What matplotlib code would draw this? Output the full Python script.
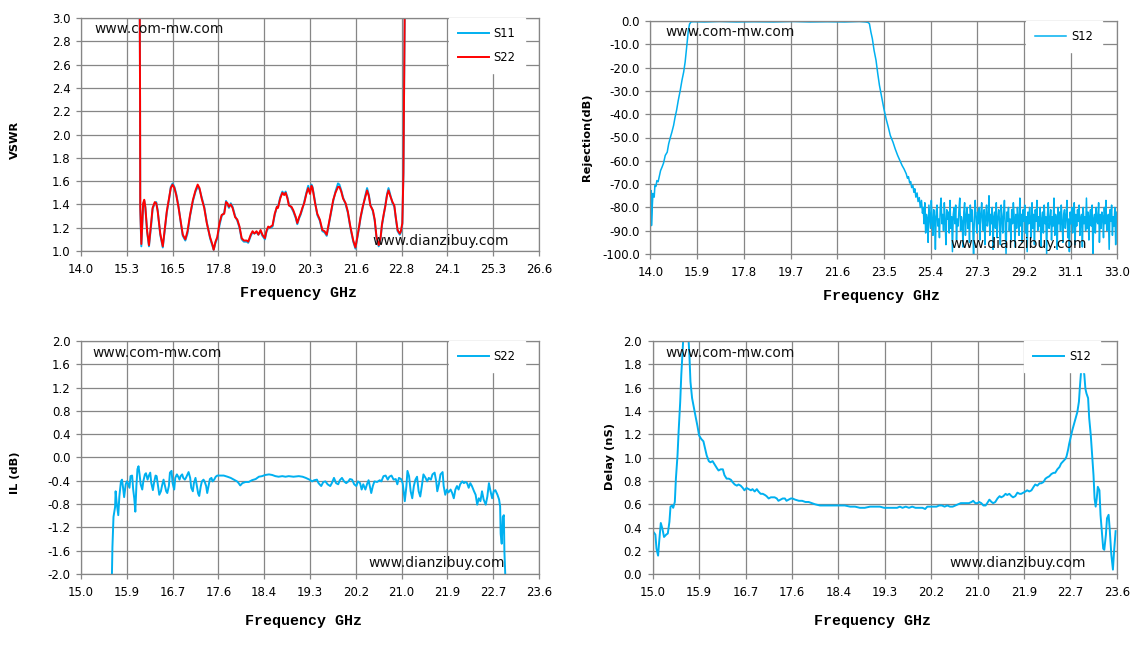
import numpy as np
import matplotlib
matplotlib.use("Agg")
import matplotlib.pyplot as plt

# ---------------- data ----------------
# VSWR panel
vswr_freq = [15.61, 15.625, 15.63, 15.66, 15.71, 15.74, 15.77, 15.82, 15.87, 15.93,
             15.97, 16.03, 16.07, 16.11, 16.18, 16.25, 16.30, 16.36, 16.43, 16.47,
             16.52, 16.57, 16.62, 16.68, 16.75, 16.80, 16.87, 16.93, 17.00, 17.08,
             17.15, 17.21, 17.26, 17.32, 17.39, 17.46, 17.55, 17.62, 17.65, 17.70,
             17.75, 17.81, 17.87, 17.94, 17.99, 18.03, 18.07, 18.12, 18.17, 18.24,
             18.30, 18.36, 18.42, 18.48, 18.56, 18.60, 18.67, 18.72, 18.77, 18.83,
             18.88, 18.94, 18.99, 19.06, 19.10, 19.15, 19.19, 19.22, 19.27, 19.33,
             19.39, 19.42, 19.48, 19.54, 19.59, 19.63, 19.68, 19.72, 19.79, 19.84,
             19.91, 19.95, 20.00, 20.04, 20.09, 20.14, 20.20, 20.25, 20.30, 20.34,
             20.37, 20.44, 20.50, 20.57, 20.64, 20.70, 20.76, 20.79, 20.87, 20.94,
             21.00, 21.07, 21.11, 21.16, 21.21, 21.28, 21.34, 21.41, 21.49, 21.55,
             21.60, 21.64, 21.69, 21.75, 21.81, 21.87, 21.92, 21.96, 22.03, 22.08,
             22.13, 22.19, 22.24, 22.28, 22.33, 22.37, 22.42, 22.46, 22.51, 22.57,
             22.62, 22.66, 22.71, 22.77, 22.80, 22.84, 22.86, 22.87, 22.89, 22.92]
s22_vswr = [3.60, 2.30, 1.38, 1.06, 1.41, 1.44, 1.38, 1.17, 1.05, 1.24,
            1.37, 1.42, 1.41, 1.34, 1.15, 1.04, 1.18, 1.34, 1.47, 1.54,
            1.57, 1.54, 1.48, 1.38, 1.24, 1.14, 1.10, 1.17, 1.31, 1.44,
            1.52, 1.57, 1.54, 1.45, 1.37, 1.24, 1.12, 1.05, 1.01, 1.08,
            1.12, 1.24, 1.31, 1.32, 1.42, 1.41, 1.38, 1.40, 1.37, 1.29,
            1.27, 1.21, 1.11, 1.09, 1.09, 1.08, 1.14, 1.17, 1.15, 1.17,
            1.14, 1.18, 1.14, 1.11, 1.17, 1.21, 1.20, 1.21, 1.22, 1.32,
            1.38, 1.37, 1.45, 1.50, 1.48, 1.50, 1.45, 1.39, 1.38, 1.35,
            1.29, 1.24, 1.29, 1.32, 1.37, 1.41, 1.49, 1.54, 1.49, 1.56,
            1.54, 1.41, 1.32, 1.27, 1.18, 1.17, 1.14, 1.19, 1.32, 1.44,
            1.50, 1.55, 1.55, 1.51, 1.45, 1.41, 1.34, 1.21, 1.09, 1.03,
            1.12, 1.19, 1.29, 1.38, 1.45, 1.52, 1.47, 1.39, 1.35, 1.27,
            1.12, 1.05, 1.11, 1.23, 1.32, 1.38, 1.48, 1.52, 1.47, 1.42,
            1.39, 1.29, 1.18, 1.15, 1.17, 1.24, 1.55, 1.67, 2.45, 3.60]
s11_vswr = [3.60, 2.30, 1.36, 1.04, 1.39, 1.43, 1.37, 1.16, 1.04, 1.22,
            1.36, 1.41, 1.42, 1.35, 1.14, 1.03, 1.17, 1.33, 1.46, 1.55,
            1.58, 1.55, 1.49, 1.39, 1.23, 1.13, 1.09, 1.15, 1.30, 1.43,
            1.51, 1.55, 1.53, 1.46, 1.38, 1.25, 1.11, 1.04, 1.01, 1.07,
            1.11, 1.22, 1.30, 1.33, 1.43, 1.40, 1.37, 1.41, 1.38, 1.30,
            1.26, 1.20, 1.10, 1.08, 1.08, 1.07, 1.13, 1.16, 1.15, 1.16,
            1.14, 1.17, 1.13, 1.10, 1.16, 1.20, 1.20, 1.20, 1.21, 1.31,
            1.38, 1.38, 1.46, 1.51, 1.49, 1.51, 1.46, 1.40, 1.37, 1.34,
            1.28, 1.23, 1.28, 1.31, 1.36, 1.42, 1.50, 1.56, 1.50, 1.57,
            1.55, 1.42, 1.31, 1.26, 1.17, 1.16, 1.13, 1.18, 1.31, 1.43,
            1.51, 1.58, 1.57, 1.52, 1.46, 1.40, 1.33, 1.20, 1.08, 1.02,
            1.11, 1.18, 1.28, 1.37, 1.46, 1.54, 1.48, 1.40, 1.34, 1.26,
            1.11, 1.04, 1.10, 1.22, 1.31, 1.39, 1.49, 1.54, 1.48, 1.41,
            1.38, 1.28, 1.17, 1.14, 1.16, 1.23, 1.53, 1.66, 2.45, 3.60]

# Rejection panel (S12)
rej_freq = [14.00, 14.03, 14.04, 14.07, 14.10, 14.15, 14.18, 14.22, 14.26, 14.31,
            14.35, 14.41, 14.47, 14.53, 14.60, 14.68, 14.74, 14.81, 14.87, 14.94,
            15.00, 15.06, 15.13, 15.21, 15.28, 15.35, 15.41, 15.46, 15.50, 15.54,
            15.59, 15.65, 15.75, 16.20, 16.80, 17.50, 18.20, 19.00, 19.80, 20.50,
            21.20, 21.90, 22.50, 22.75, 22.85, 22.91, 22.97, 23.03, 23.10, 23.18,
            23.25, 23.32, 23.41, 23.50, 23.59, 23.68, 23.76, 23.87, 23.96, 24.06,
            24.15, 24.24, 24.32, 24.41, 24.46, 24.50, 24.55, 24.59, 24.63, 24.68,
            24.72, 24.76, 24.80, 24.85, 24.89, 24.94, 24.98, 25.03, 25.07]
rej_vals = [-76.0, -72.8, -87.8, -80.0, -74.0, -75.6, -70.6, -71.0, -68.5, -69.0,
            -67.0, -64.2, -62.7, -61.0, -57.7, -56.3, -52.7, -49.9, -47.7, -44.8,
            -41.3, -38.4, -34.1, -29.8, -25.5, -21.9, -17.6, -12.6, -8.3, -4.0,
            -1.3, -0.4, -0.3, -0.4, -0.2, -0.4, -0.3, -0.4, -0.2, -0.4,
            -0.3, -0.4, -0.2, -0.4, -0.6, -1.1, -4.7, -7.6, -12.6, -16.9,
            -22.6, -27.7, -32.7, -37.7, -42.0, -45.6, -49.1, -52.0, -54.9, -57.7,
            -59.9, -62.0, -63.5, -65.6, -67.5, -66.8, -69.5, -68.9, -71.5, -70.6,
            -73.5, -72.0, -75.6, -73.8, -77.5, -75.8, -80.0, -77.0, -82.5]
# stop band floor, 25.1 .. 33.0 GHz, evenly swept
floor_start, floor_stop = 25.10, 33.00
floor_vals = [-80, -87, -78, -91, -83, -85, -95, -79, -84, -89, -77, -86,
              -92, -81, -84, -98, -82, -79, -88, -85, -93, -80, -76, -87,
              -83, -90, -78, -86, -96, -81, -85, -82, -91, -77, -89, -84,
              -99, -83, -80, -87, -79, -94, -85, -88, -81, -76, -90, -84,
              -86, -97, -82, -78, -92, -84, -80, -89, -83, -95, -79, -86,
              -81, -88, -100, -84, -77, -85, -91, -82, -87, -80, -94, -83,
              -78, -86, -90, -81, -96, -84, -79, -88, -85, -75, -92, -83,
              -87, -80, -98, -84, -82, -89, -78, -93, -85, -81, -86, -96,
              -79, -84, -91, -83, -77, -88, -100, -82, -86, -80, -90, -85,
              -94, -81, -87, -78, -84, -97, -83, -89, -80, -85, -92, -76,
              -88, -83, -95, -81, -86, -79, -91, -84, -99, -82, -87, -80,
              -85, -93, -78, -89, -83, -96, -81, -86, -77, -90, -84, -88,
              -80, -97, -85, -82, -91, -79, -87, -84, -100, -83, -78, -89,
              -86, -81, -94, -84, -88, -76, -92, -83, -85, -98, -80, -87,
              -82, -90, -79, -86, -95, -83, -81, -89, -84, -77, -93, -85,
              -99, -82, -87, -80, -91, -84, -78, -96, -83, -88, -81, -86,
              -79, -92, -85, -83, -97, -80, -87, -84, -90, -76, -89, -82,
              -94, -84, -81, -88, -79, -100, -85, -83, -91, -80, -86, -87,
              -78, -95, -83, -89, -82, -84, -93, -80, -87, -77, -90, -85,
              -83, -98, -81, -86, -79, -92, -84, -88, -80, -96, -82, -85]

# Insertion loss panel
il_freq = [15.58, 15.59, 15.61, 15.64, 15.65, 15.67, 15.70, 15.72, 15.75, 15.77,
           15.79, 15.81, 15.84, 15.86, 15.88, 15.91, 15.93, 15.96, 15.98, 16.00,
           16.02, 16.04, 16.06, 16.08, 16.10, 16.12, 16.15, 16.17, 16.20, 16.22,
           16.25, 16.27, 16.30, 16.32, 16.35, 16.37, 16.40, 16.42, 16.45, 16.47,
           16.50, 16.52, 16.55, 16.57, 16.60, 16.62, 16.65, 16.67, 16.70, 16.72,
           16.75, 16.77, 16.80, 16.82, 16.85, 16.87, 16.90, 16.92, 16.95, 16.97,
           17.00, 17.02, 17.05, 17.07, 17.10, 17.12, 17.15, 17.17, 17.20, 17.22,
           17.25, 17.27, 17.30, 17.32, 17.35, 17.37, 17.40, 17.42, 17.45, 17.47,
           17.50, 17.53, 17.56, 17.62, 17.68, 17.75, 17.81, 17.87, 17.93, 17.96,
           17.99, 18.03, 18.09, 18.15, 18.21, 18.28, 18.34, 18.40, 18.46, 18.53,
           18.59, 18.65, 18.71, 18.78, 18.84, 18.90, 18.99, 19.09, 19.16, 19.22,
           19.29, 19.34, 19.38, 19.43, 19.46, 19.51, 19.55, 19.59, 19.63, 19.68,
           19.71, 19.75, 19.79, 19.83, 19.86, 19.90, 19.94, 19.98, 20.02, 20.05,
           20.09, 20.13, 20.17, 20.20, 20.24, 20.27, 20.30, 20.34, 20.37, 20.40,
           20.43, 20.45, 20.48, 20.51, 20.56, 20.61, 20.64, 20.68, 20.72, 20.76,
           20.79, 20.83, 20.87, 20.91, 20.94, 20.97, 21.01, 21.04, 21.08, 21.11,
           21.13, 21.16, 21.19, 21.22, 21.25, 21.28, 21.31, 21.34, 21.37, 21.40,
           21.43, 21.47, 21.50, 21.53, 21.57, 21.60, 21.64, 21.67, 21.69, 21.72,
           21.75, 21.79, 21.81, 21.84, 21.87, 21.90, 21.94, 21.97, 22.00, 22.03,
           22.06, 22.09, 22.12, 22.16, 22.19, 22.22, 22.25, 22.28, 22.31, 22.34,
           22.38, 22.41, 22.44, 22.47, 22.50, 22.53, 22.56, 22.60, 22.63, 22.66,
           22.69, 22.72, 22.75, 22.78, 22.82, 22.85, 22.87, 22.88, 22.90, 22.92,
           22.94, 22.95, 22.97]
il_vals = [-2.05, -1.54, -1.02, -0.85, -0.58, -0.78, -0.99, -0.67, -0.41, -0.38,
           -0.52, -0.68, -0.46, -0.41, -0.44, -0.52, -0.32, -0.31, -0.55, -0.70,
           -0.93, -0.49, -0.20, -0.15, -0.29, -0.46, -0.55, -0.41, -0.29, -0.27,
           -0.38, -0.32, -0.26, -0.44, -0.56, -0.44, -0.31, -0.32, -0.52, -0.64,
           -0.58, -0.49, -0.38, -0.46, -0.58, -0.61, -0.49, -0.26, -0.23, -0.44,
           -0.55, -0.35, -0.29, -0.32, -0.38, -0.32, -0.29, -0.35, -0.38, -0.35,
           -0.29, -0.25, -0.35, -0.52, -0.58, -0.44, -0.35, -0.46, -0.62, -0.66,
           -0.49, -0.41, -0.38, -0.41, -0.49, -0.61, -0.46, -0.37, -0.35, -0.41,
           -0.38, -0.33, -0.31, -0.31, -0.31, -0.33, -0.35, -0.38, -0.41, -0.44,
           -0.48, -0.44, -0.42, -0.42, -0.39, -0.37, -0.33, -0.32, -0.30, -0.29,
           -0.30, -0.32, -0.33, -0.32, -0.33, -0.32, -0.33, -0.32, -0.33, -0.35,
           -0.38, -0.41, -0.39, -0.38, -0.44, -0.49, -0.42, -0.41, -0.46, -0.49,
           -0.44, -0.35, -0.44, -0.46, -0.39, -0.35, -0.41, -0.44, -0.41, -0.37,
           -0.38, -0.46, -0.49, -0.41, -0.44, -0.55, -0.46, -0.55, -0.46, -0.39,
           -0.52, -0.61, -0.49, -0.41, -0.42, -0.39, -0.41, -0.32, -0.31, -0.38,
           -0.33, -0.31, -0.38, -0.37, -0.46, -0.35, -0.37, -0.44, -0.75, -0.49,
           -0.23, -0.32, -0.58, -0.70, -0.49, -0.38, -0.33, -0.58, -0.67, -0.49,
           -0.29, -0.35, -0.41, -0.35, -0.38, -0.29, -0.26, -0.41, -0.58, -0.46,
           -0.29, -0.25, -0.49, -0.64, -0.55, -0.60, -0.55, -0.61, -0.70, -0.55,
           -0.49, -0.55, -0.46, -0.41, -0.44, -0.42, -0.44, -0.52, -0.44, -0.49,
           -0.58, -0.64, -0.81, -0.70, -0.75, -0.58, -0.72, -0.81, -0.67, -0.44,
           -0.58, -0.70, -0.58, -0.56, -0.64, -0.72, -0.84, -1.31, -1.48, -1.02,
           -0.99, -1.60, -2.10]

# Group delay panel
dly_freq = [15.00, 15.02, 15.05, 15.07, 15.10, 15.12, 15.15, 15.18, 15.21, 15.25,
            15.28, 15.31, 15.33, 15.36, 15.38, 15.41, 15.43, 15.46, 15.48, 15.51,
            15.53, 15.55, 15.57, 15.62, 15.66, 15.68, 15.70, 15.73, 15.77, 15.80,
            15.83, 15.86, 15.90, 15.94, 15.97, 16.00, 16.04, 16.07, 16.11, 16.15,
            16.19, 16.22, 16.26, 16.30, 16.33, 16.37, 16.41, 16.45, 16.48, 16.52,
            16.56, 16.59, 16.63, 16.67, 16.70, 16.74, 16.78, 16.82, 16.85, 16.89,
            16.93, 16.96, 17.00, 17.04, 17.08, 17.11, 17.15, 17.19, 17.22, 17.26,
            17.30, 17.33, 17.37, 17.41, 17.45, 17.48, 17.52, 17.56, 17.59, 17.64,
            17.71, 17.77, 17.83, 17.89, 17.95, 18.01, 18.10, 18.19, 18.29, 18.38,
            18.47, 18.56, 18.66, 18.75, 18.84, 18.93, 19.03, 19.12, 19.21, 19.29,
            19.35, 19.41, 19.47, 19.53, 19.58, 19.63, 19.69, 19.75, 19.81, 19.87,
            19.94, 20.00, 20.05, 20.09, 20.15, 20.21, 20.26, 20.31, 20.36, 20.41,
            20.46, 20.51, 20.56, 20.61, 20.66, 20.71, 20.76, 20.81, 20.86, 20.91,
            20.94, 20.98, 21.02, 21.05, 21.09, 21.13, 21.17, 21.20, 21.24, 21.28,
            21.31, 21.35, 21.39, 21.43, 21.46, 21.50, 21.54, 21.57, 21.61, 21.65,
            21.68, 21.72, 21.76, 21.80, 21.83, 21.87, 21.91, 21.94, 21.98, 22.02,
            22.06, 22.09, 22.13, 22.17, 22.20, 22.24, 22.28, 22.31, 22.35, 22.39,
            22.43, 22.46, 22.50, 22.54, 22.57, 22.61, 22.65, 22.67, 22.70, 22.72,
            22.75, 22.78, 22.81, 22.84, 22.87, 22.90, 22.92, 22.94, 22.96, 22.98,
            23.00, 23.02, 23.04, 23.07, 23.09, 23.12, 23.14, 23.17, 23.19, 23.21,
            23.23, 23.25, 23.28, 23.30, 23.33, 23.35, 23.37, 23.40, 23.42, 23.45,
            23.47, 23.50, 23.53, 23.55, 23.58]
dly_vals = [0.34, 0.36, 0.34, 0.22, 0.16, 0.28, 0.44, 0.39, 0.32, 0.34,
            0.35, 0.45, 0.58, 0.59, 0.57, 0.62, 0.82, 1.02, 1.22, 1.48,
            1.71, 1.88, 2.05, 2.15, 2.05, 1.88, 1.65, 1.51, 1.41, 1.34,
            1.27, 1.19, 1.16, 1.14, 1.08, 1.02, 0.97, 0.96, 0.97, 0.94,
            0.91, 0.89, 0.90, 0.90, 0.85, 0.82, 0.82, 0.81, 0.79, 0.77,
            0.76, 0.77, 0.76, 0.74, 0.72, 0.74, 0.73, 0.72, 0.73, 0.71,
            0.73, 0.71, 0.69, 0.69, 0.68, 0.67, 0.65, 0.66, 0.66, 0.66,
            0.65, 0.63, 0.64, 0.65, 0.65, 0.63, 0.64, 0.65, 0.65, 0.64,
            0.63, 0.63, 0.62, 0.62, 0.61, 0.60, 0.59, 0.59, 0.59, 0.59,
            0.59, 0.59, 0.58, 0.58, 0.57, 0.57, 0.58, 0.58, 0.58, 0.57,
            0.57, 0.57, 0.57, 0.57, 0.58, 0.57, 0.58, 0.57, 0.58, 0.57,
            0.57, 0.57, 0.56, 0.58, 0.58, 0.58, 0.58, 0.59, 0.59, 0.58,
            0.59, 0.58, 0.58, 0.59, 0.60, 0.61, 0.61, 0.61, 0.61, 0.62,
            0.63, 0.61, 0.61, 0.62, 0.61, 0.59, 0.59, 0.61, 0.64, 0.62,
            0.61, 0.62, 0.65, 0.67, 0.66, 0.67, 0.69, 0.68, 0.69, 0.67,
            0.66, 0.67, 0.70, 0.69, 0.69, 0.70, 0.71, 0.72, 0.71, 0.72,
            0.75, 0.77, 0.76, 0.78, 0.78, 0.79, 0.82, 0.83, 0.84, 0.86,
            0.87, 0.87, 0.90, 0.92, 0.95, 0.97, 0.99, 1.01, 1.07, 1.12,
            1.18, 1.24, 1.29, 1.34, 1.39, 1.48, 1.62, 1.74, 1.78, 1.77,
            1.71, 1.59, 1.55, 1.51, 1.34, 1.19, 1.05, 0.85, 0.65, 0.58,
            0.65, 0.75, 0.72, 0.51, 0.34, 0.22, 0.21, 0.34, 0.48, 0.51,
            0.39, 0.17, 0.04, 0.19, 0.37]

# axis ticks
vswr_xt = ["14.0", "15.3", "16.5", "17.8", "19.0", "20.3", "21.6", "22.8", "24.1", "25.3", "26.6"]
vswr_yt = ["1.0", "1.2", "1.4", "1.6", "1.8", "2.0", "2.2", "2.4", "2.6", "2.8", "3.0"]
rej_xt = ["14.0", "15.9", "17.8", "19.7", "21.6", "23.5", "25.4", "27.3", "29.2", "31.1", "33.0"]
rej_yt = ["-100.0", "-90.0", "-80.0", "-70.0", "-60.0", "-50.0", "-40.0", "-30.0", "-20.0", "-10.0", "0.0"]
low_xt = ["15.0", "15.9", "16.7", "17.6", "18.4", "19.3", "20.2", "21.0", "21.9", "22.7", "23.6"]
il_yt = ["-2.0", "-1.6", "-1.2", "-0.8", "-0.4", "0.0", "0.4", "0.8", "1.2", "1.6", "2.0"]
dly_yt = ["0.0", "0.2", "0.4", "0.6", "0.8", "1.0", "1.2", "1.4", "1.6", "1.8", "2.0"]

# ---------------- drawing ----------------
W, H = 1135, 645
GRID = "#868686"
BLUE = "#00B0F0"
RED = "#FF0000"

fig = plt.figure(figsize=(W / 100, H / 100), dpi=100)


def make_axes(l, t, r, b):
    return fig.add_axes([l / W, 1 - b / H, (r - l) / W, (b - t) / H])


def style(ax, xlim, xt, ylim, yt):
    ax.set_xlim(xlim)
    ax.set_ylim(ylim)
    ax.set_xticks(np.linspace(xlim[0], xlim[1], len(xt)))
    ax.set_xticklabels(xt)
    ax.set_yticks(np.linspace(ylim[0], ylim[1], len(yt)))
    ax.set_yticklabels(yt)
    ax.set_axisbelow(True)
    ax.grid(True, color=GRID, lw=0.9)
    for s in ax.spines.values():
        s.set_color(GRID)
        s.set_linewidth(0.9)
    ax.tick_params(direction="out", length=3.6, width=0.9, color=GRID,
                   labelsize=8.5, labelcolor="black")
    ax.tick_params(axis="x", pad=5.0)
    ax.tick_params(axis="y", pad=4.0)


def legend(ax, right):
    ax.legend(loc="upper right", bbox_to_anchor=(right, 1.0), borderaxespad=0,
              frameon=True, fancybox=False, edgecolor="white", facecolor="white",
              framealpha=1, fontsize=8.3, handlelength=2.7, handletextpad=0.4,
              borderpad=0.8, labelspacing=0.9)


def wtext(x, y, s, **kw):
    fig.text(x / W, 1 - y / H, s, **kw)


# VSWR
ax1 = make_axes(81, 18, 539, 251)
ax1.plot(vswr_freq, s11_vswr, color=BLUE, lw=1.4, label="S11")
ax1.plot(vswr_freq, s22_vswr, color=RED, lw=1.4, label="S22")
style(ax1, (14.0, 26.6), vswr_xt, (1.0, 3.0), vswr_yt)
legend(ax1, 0.969)

# Rejection
ax2 = make_axes(650.5, 21, 1117.3, 254)
rej_f = rej_freq + list(np.linspace(floor_start, floor_stop, len(floor_vals)))
rej_v = rej_vals + floor_vals
ax2.plot(rej_f, rej_v, color=BLUE, lw=1.1, label="S12")
style(ax2, (14.0, 33.0), rej_xt, (-100.0, 0.0), rej_yt)
legend(ax2, 0.967)

# IL
ax3 = make_axes(81, 341, 539, 574)
ax3.plot(il_freq, il_vals, color=BLUE, lw=1.4, label="S22")
style(ax3, (15.0, 23.6), low_xt, (-2.0, 2.0), il_yt)
legend(ax3, 0.969)

# Delay
ax4 = make_axes(652.7, 341, 1116.7, 574.3)
ax4.plot(dly_freq, dly_vals, color=BLUE, lw=1.4, label="S12")
style(ax4, (15.0, 23.6), low_xt, (0.0, 2.0), dly_yt)
legend(ax4, 0.964)

# axis titles
ylab = dict(rotation=90, fontweight="bold", fontsize=8.2, ha="center", va="center")
wtext(15.4, 139.5, "VSWR", **ylab)
wtext(586.7, 137, "Rejection(dB)", **ylab)
wtext(15, 473, "IL (dB)", **ylab)
wtext(609.8, 457, "Delay (nS)", **ylab)

xlab = dict(family="Liberation Mono", fontweight="bold", fontsize=10.8,
            ha="center", va="center")
wtext(298.5, 293, "Frequency GHz", **xlab)
wtext(881.3, 296, "Frequency GHz", **xlab)
wtext(303.7, 621, "Frequency GHz", **xlab)
wtext(872.8, 621, "Frequency GHz", **xlab)

# watermarks
wm = dict(fontsize=10, ha="left", va="center", color="#111111")
for x, y in [(94, 29), (665, 32), (92.6, 353), (665, 353)]:
    wtext(x, y, "www.com-mw.com", **wm)
for x, y in [(372, 241), (950, 244), (368, 563), (949, 563)]:
    wtext(x, y, "www.dianzibuy.com", **wm)

fig.savefig("out.png", dpi=100)
